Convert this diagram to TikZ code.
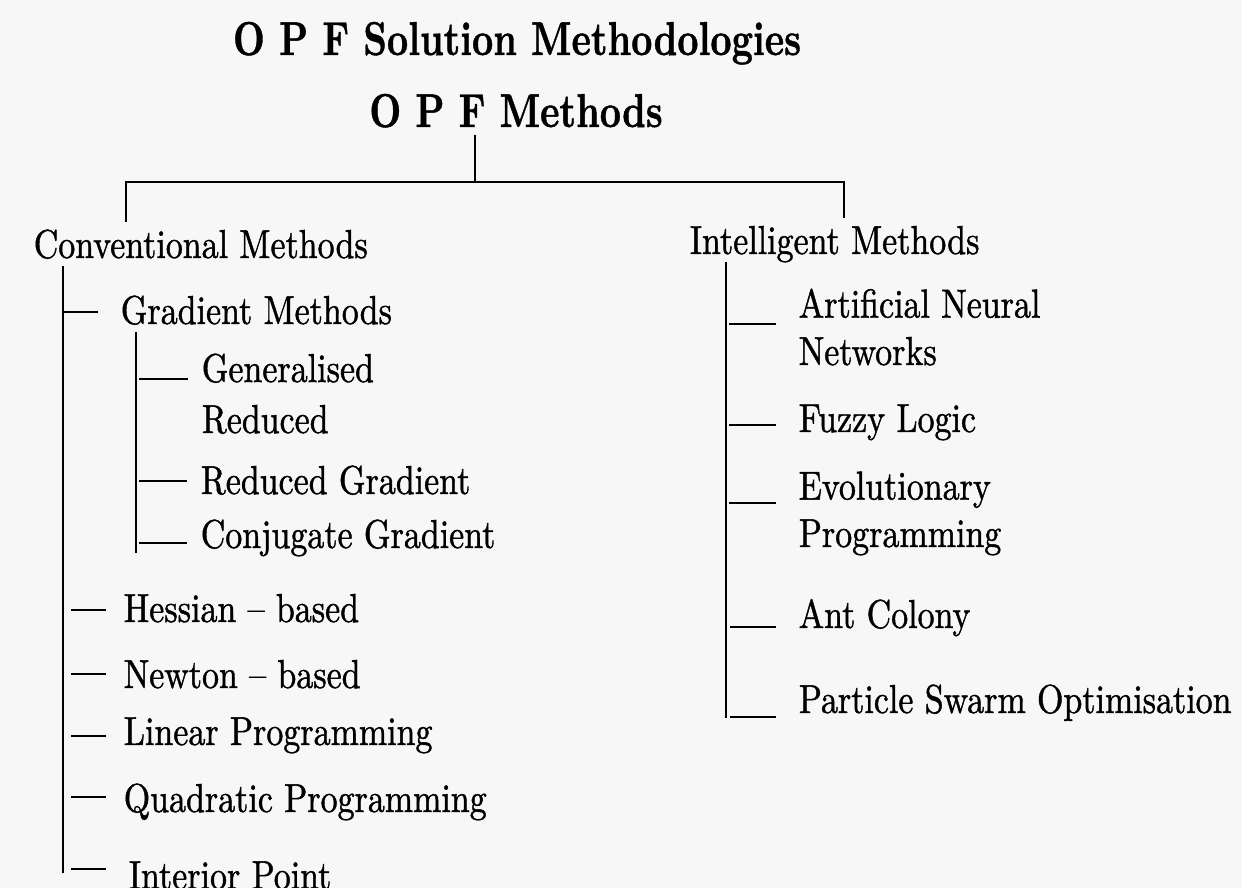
\documentclass[tikz,border=0pt]{standalone}
\usepackage{fontspec}
\setmainfont{lmroman10-regular.otf}[BoldFont=lmroman10-bold.otf]
\usepackage{tikz}

\begin{document}
\begin{tikzpicture}[x=0.02cm,y=-0.02cm,line width=1.1pt]

  \tikzstyle{every node} = [inner sep=0pt, outer ysep=4.5pt, text depth=0pt]
  \tikzstyle{head} = [anchor=base, xscale=0.78,
                      font=\fontsize{27}{32}\selectfont\bfseries\addfontfeature{FakeBold=1}]
  \tikzstyle{item} = [anchor=base west, xscale=0.84, align=left,
                      font=\fontsize{23}{27}\selectfont\addfontfeature{FakeBold=1.2}]

  \useasboundingbox (0,0) rectangle (1242,888);
  \fill[black!3] (0,0) rectangle (1242,888);

  % headings
  \node[head] (title) at (517,55)  {O P F Solution Methodologies};
  \node[head] (opf)   at (516,127) {O P F Methods};

  % left branch
  \node[item] (conv)     at (33,258)  {Conventional Methods};
  \node[item] (grad)     at (120,324) {Gradient Methods};
  \node[item] (genred)   at (201,433) {Generalised\\[2pt]Reduced};
  \node[item] (redgrad)  at (200,494) {Reduced Gradient};
  \node[item] (conjgrad) at (200,548) {Conjugate Gradient};
  \node[item] (hess)     at (123,622) {Hessian -- based};
  \node[item] (newton)   at (123,688) {Newton -- based};
  \node[item] (linprog)  at (123,745) {Linear Programming};
  \node[item] (quadprog) at (123,812) {Quadratic Programming};
  \node[item] (intpoint) at (128,889) {Interior Point};

  % right branch
  \node[item] (intel) at (689,254) {Intelligent Methods};
  \node[item] (ann)   at (798,365) {Artificial Neural\\Networks};
  \node[item] (fuzzy) at (798,432) {Fuzzy Logic};
  \node[item] (evol)  at (798,547) {Evolutionary\\Programming};
  \node[item] (ant)   at (798,628) {Ant Colony};
  \node[item] (pso)   at (798,713) {Particle Swarm Optimisation};

  \coordinate (barL) at (126,182);
  \coordinate (barM) at (475,182);
  \coordinate (barR) at (844,182);
  \coordinate (convE)  at (63,873);
  \coordinate (gradE)  at (136,553);
  \coordinate (intelE) at (726,718);

  % where the twigs leave the trunks
  \coordinate (gradT)     at (63,312);
  \coordinate (genredT)   at (139,379);
  \coordinate (redgradT)  at (139,481);
  \coordinate (conjgradT) at (139,543);
  \coordinate (hessT)     at (71,610);
  \coordinate (newtonT)   at (71,674);
  \coordinate (linprogT)  at (71,736);
  \coordinate (quadprogT) at (71,797);
  \coordinate (intpointT) at (71,869);
  \coordinate (annT)      at (729,324);
  \coordinate (fuzzyT)    at (729,425);
  \coordinate (evolT)     at (729,503);
  \coordinate (antT)      at (730,627);
  \coordinate (psoT)      at (730,717);

  \draw (opf.south -| barM) -- (barM);
  \draw (conv.north -| barL) -- (barL) -- (barR) -- (intel.north -| barR);
  \draw (conv.south -| convE) -- (convE);
  \draw (grad.south -| gradE) -- (gradE);
  \draw (intel.south -| intelE) -- (intelE);

  \path[shorten >=12.5pt] (gradT) edge (gradT -| grad.west)
        (intpointT) edge (intpointT -| intpoint.west)
        (annT)   edge (annT -| ann.west)
        (fuzzyT) edge (fuzzyT -| fuzzy.west)
        (evolT)  edge (evolT -| evol.west)
        (antT)   edge (antT -| ant.west)
        (psoT)   edge (psoT -| pso.west);
  \path[shorten >=9.7pt] (hessT) edge (hessT -| hess.west)
        (newtonT)   edge (newtonT -| newton.west)
        (linprogT)  edge (linprogT -| linprog.west)
        (quadprogT) edge (quadprogT -| quadprog.west);
  \path[shorten >=7.5pt] (genredT) edge (genredT -| genred.west)
        (redgradT)  edge (redgradT -| redgrad.west)
        (conjgradT) edge (conjgradT -| conjgrad.west);
\end{tikzpicture}
\end{document}
